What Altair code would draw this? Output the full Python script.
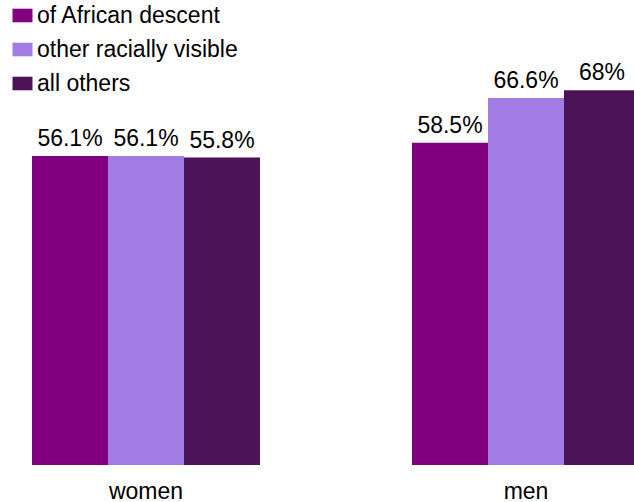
import altair as alt
import pandas as pd

groups = ["women", "men"]
series = ["of African descent", "other racially visible", "all others"]
women_values = [56.1, 56.1, 55.8]
men_values = [58.5, 66.6, 68]
colors = ["#800080", "#A17CE3", "#4C1457"]

rows = []
for g, vals in zip(groups, [women_values, men_values]):
    for s, v in zip(series, vals):
        rows.append({"group": g, "series": s, "value": v})
df = pd.DataFrame(rows)

FONT = "Liberation Sans"
FS = 23

x = alt.X(
    "group:N",
    sort=groups,
    scale=alt.Scale(domain=groups, range=[0, 672], paddingInner=0.4, paddingOuter=0.0842),
    axis=alt.Axis(title=None, labelAngle=0, ticks=False, domain=False,
                  labelFontSize=FS, labelFont=FONT, labelColor="#000000", labelPadding=15),
)
xo = alt.XOffset("series:N", sort=series, scale=alt.Scale(domain=series, paddingInner=0, paddingOuter=0))
y = alt.Y("value:Q", scale=alt.Scale(domain=[0, 84.4], nice=False, zero=True), axis=None)

bars = alt.Chart(df).mark_bar(clip=True).encode(
    x=x,
    xOffset=xo,
    y=y,
    color=alt.Color(
        "series:N",
        sort=series,
        scale=alt.Scale(domain=series, range=colors),
        legend=alt.Legend(
            title=None, orient="none", legendX=11, legendY=4,
            symbolType="M-1,-0.68H1V0.68H-1Z", symbolSize=400,
            symbolStrokeWidth=0, labelFontSize=FS, labelFont=FONT,
            labelColor="#000000", labelOffset=3, rowPadding=10, labelLimit=0,
        ),
    ),
)

labels = alt.Chart(df).transform_calculate(
    label="datum.value + '%'"
).mark_text(baseline="alphabetic", dy=-10, fontSize=FS, font=FONT, color="#000000").encode(
    x=x, xOffset=xo, y=y, text="label:N"
)

chart = alt.layer(bars, labels).properties(
    width=634, height=465,
    background="#ffffff",
    autosize=alt.AutoSizeParams(type="none"),
    padding={"left": 0, "top": 0, "right": 0, "bottom": 37},
).configure_view(stroke=None, strokeWidth=0)

chart.save("out.html", embed_options={"renderer": "svg", "actions": False})
